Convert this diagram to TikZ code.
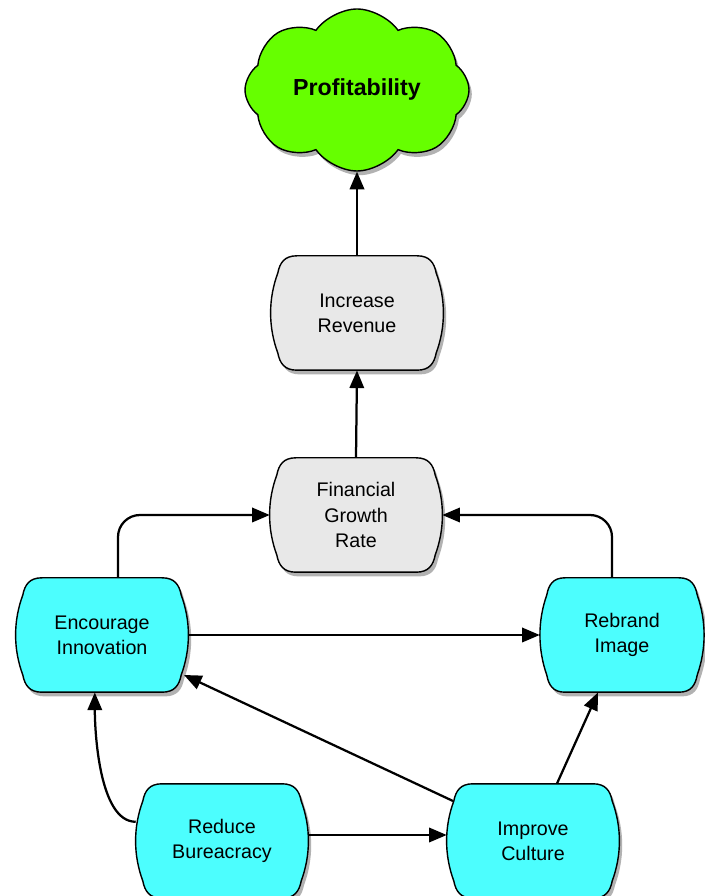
\documentclass[tikz,border=0pt]{standalone}
\usepackage{fontspec}
\setmainfont{Liberation Sans}
\usetikzlibrary{arrows.meta,shapes.symbols,shadows,backgrounds}

\definecolor{boxcyan}{HTML}{4CFEFE}
\definecolor{boxgray}{HTML}{E8E8E8}
\definecolor{cloudgreen}{HTML}{66FF00}

\tikzset{
  capsule/.style={draw=none, minimum width=4.3cm, minimum height=2.86cm,
    align=center, font=\fontsize{14}{18}\selectfont},
  boxshadow/.style={drop shadow={shadow xshift=2pt, shadow yshift=-3pt,
    fill=black!60, opacity=0.5}},
  link/.style={line width=1.6pt, -{Triangle[length=4.4mm,width=3.6mm]}}
}

% outline of the boxes with bulging sides
\newcommand{\capsulepath}{(-1.5,1.43) -- (1.5,1.43)
  .. controls (1.82,1.43) and (1.93,1.25) .. (1.98,1.0)
  .. controls (2.22,0.35) and (2.22,-0.35) .. (1.98,-1.0)
  .. controls (1.93,-1.25) and (1.82,-1.43) .. (1.5,-1.43)
  -- (-1.5,-1.43)
  .. controls (-1.82,-1.43) and (-1.93,-1.25) .. (-1.98,-1.0)
  .. controls (-2.22,-0.35) and (-2.22,0.35) .. (-1.98,1.0)
  .. controls (-1.93,1.25) and (-1.82,1.43) .. (-1.5,1.43) -- cycle}

\newcommand{\drawcapsule}[3]{% node, fill, xscale
  \begin{scope}[on background layer, shift={(#1.center)}, xscale=#3]
    \draw[line width=1pt, fill=#2, boxshadow] \capsulepath;
  \end{scope}}

\begin{document}
\begin{tikzpicture}
  \useasboundingbox (0,0) rectangle (17.6,22.4);

  \node[cloud, cloud puffs=8, cloud puff arc=110, aspect=1.45,
        draw, line width=1pt, fill=cloudgreen, boxshadow,
        minimum width=5.6cm, minimum height=3.9cm,
        font=\fontsize{16.5}{20}\selectfont\bfseries] (profit) at (8.925,20.15) {Profitability};

  \node[capsule] (incr) at (8.925,14.575) {Increase\\Revenue};
  \node[capsule] (fin) at (8.9,9.525) {Financial\\Growth\\Rate};
  \node[capsule] (enc) at (2.55,6.525) {Encourage\\Innovation};
  \node[capsule, minimum width=4.1cm] (reb) at (15.55,6.525) {Rebrand\\Image};
  \node[capsule] (red) at (5.55,1.375) {Reduce\\Bureacracy};
  \node[capsule] (imp) at (13.325,1.375) {Improve\\Culture};

  \drawcapsule{incr}{boxgray}{1}
  \drawcapsule{fin}{boxgray}{1}
  \drawcapsule{enc}{boxcyan}{1}
  \drawcapsule{reb}{boxcyan}{0.95}
  \drawcapsule{red}{boxcyan}{1}
  \drawcapsule{imp}{boxcyan}{1}

  % connectors
  \draw[link] (incr.north) -- (profit.south);
  \draw[link] (fin.north) -- (incr.south);
  \draw[link, rounded corners=0.55cm] ([xshift=0.4cm]enc.north) |- (fin.west);
  \draw[link, rounded corners=0.55cm] ([xshift=-0.25cm]reb.north) |- (fin.east);
  \draw[link] (enc.east) -- (reb.west);
  \draw[link] ([shift={(-2.0,1.0)}]imp.center) -- ([shift={(2.05,-1.0)}]enc.center);
  \draw[link] ([xshift=0.6cm]imp.north) -- ([xshift=-0.6cm]reb.south);
  \draw[link] ([yshift=0.15cm]red.east) -- ([yshift=0.15cm]imp.west);
  \draw[link] ([yshift=0.48cm]red.west) to[out=180,in=-90,looseness=0.7] ([xshift=-0.18cm]enc.south);
\end{tikzpicture}
\end{document}
